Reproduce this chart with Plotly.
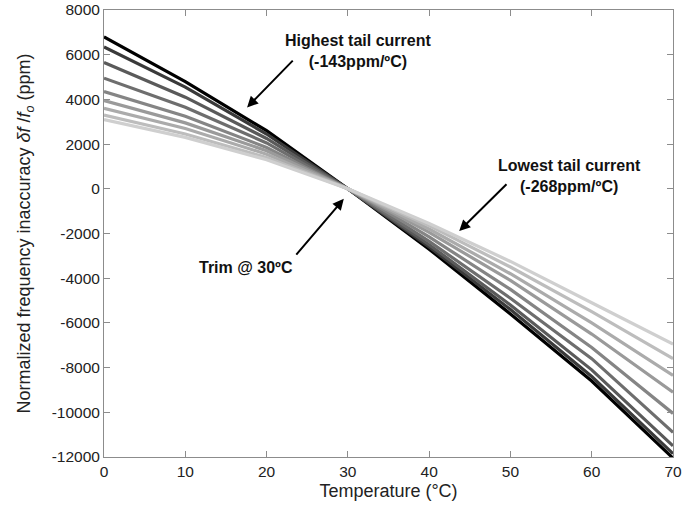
import plotly.graph_objects as go

temps = [0, 10, 20, 30, 40, 50, 60, 70]
series = [
    [6800, 4800, 2600, 0, -2700, -5600, -8600, -12050],
    [6350, 4550, 2450, 0, -2600, -5400, -8400, -11850],
    [5650, 4100, 2250, 0, -2500, -5200, -8100, -11500],
    [4950, 3650, 2050, 0, -2350, -4900, -7600, -10900],
    [4350, 3250, 1850, 0, -2150, -4500, -7100, -10050],
    [3950, 2950, 1700, 0, -1950, -4100, -6500, -9100],
    [3600, 2700, 1550, 0, -1800, -3800, -6000, -8350],
    [3300, 2450, 1400, 0, -1650, -3500, -5500, -7600],
    [3100, 2300, 1300, 0, -1550, -3250, -5100, -6950],
]
colors = ["#000000", "#3a3a3a", "#5a5a5a", "#6e6e6e", "#858585",
          "#9a9a9a", "#ababab", "#bdbdbd", "#cfcfcf"]
yticks = list(range(-12000, 8001, 2000))
ytick_text = [str(v) for v in yticks]
xticks = list(range(0, 71, 10))
xtick_text = [str(v) for v in xticks]

fig = go.Figure()
for vals, c in zip(series, colors):
    fig.add_trace(go.Scatter(x=temps, y=vals, mode="lines",
                             line=dict(color=c, width=3.2), showlegend=False))

font_main = "Liberation Sans, Arial, Helvetica, sans-serif"
ann_font = dict(family=font_main, size=16, color="#111")

arrows = [
    (17.6, 3640, 23.4, 5800),
    (43.7, -1890, 49.7, 270),
    (29.5, -450, 23.5, -3010),
]
for hx, hy, tx, ty in arrows:
    fig.add_annotation(x=hx, y=hy, ax=tx, ay=ty, xref="x", yref="y",
                       axref="x", ayref="y", text="", showarrow=True,
                       arrowhead=2, arrowsize=1.1, arrowwidth=2, arrowcolor="#000")

texts = [
    (31.2, 6150, "<b>Highest tail current<br>(-143ppm/ºC)</b>"),
    (57.3, 585, "<b>Lowest tail current<br>(-268ppm/ºC)</b>"),
    (17.5, -3505, "<b>Trim @ 30ºC</b>"),
]
for x, y, t in texts:
    fig.add_annotation(x=x, y=y, xref="x", yref="y", text=t, showarrow=False,
                       font=ann_font, align="center")

axis_common = dict(showline=True, linecolor="#8c8c8c", linewidth=1, mirror="ticks",
                   ticks="inside", ticklen=6, tickcolor="#8c8c8c", showgrid=False,
                   zeroline=False, automargin=False,
                   tickfont=dict(family=font_main, size=15.5, color="#222"))

fig.update_xaxes(range=[0, 70], tickvals=xticks, ticktext=xtick_text,
                 title=dict(text="Temperature (°C)", font=dict(family=font_main, size=18, color="#222"),
                            standoff=5),
                 **axis_common)
fig.update_yaxes(range=[-12000, 8000], tickvals=yticks, ticktext=ytick_text,
                 title=dict(text="Normalized frequency inaccuracy <i>δf</i> /<i>f<sub>o</sub></i> (ppm)",
                            font=dict(family=font_main, size=18, color="#222"), standoff=16),
                 **axis_common)

fig.update_layout(width=697, height=510, margin=dict(l=104, r=24, t=10, b=53),
                  paper_bgcolor="white", plot_bgcolor="white")

fig.write_html("out.html")
